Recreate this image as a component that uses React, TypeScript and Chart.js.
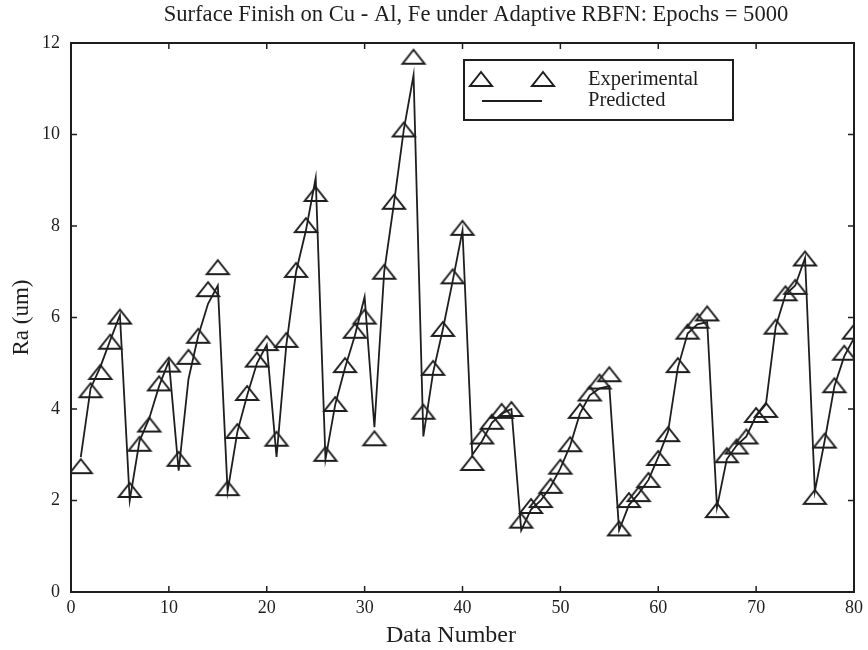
import React, { useEffect, useRef } from "react";
import { Chart, registerables } from "chart.js";

Chart.register(...registerables);

const TITLE = "Surface Finish on Cu - Al, Fe under Adaptive RBFN: Epochs = 5000";
const X_LABEL = "Data Number";
const Y_LABEL = "Ra (um)";
const LEGEND_LABELS = ["Experimental", "Predicted"];

const X_MIN = 0;
const X_MAX = 80;
const X_STEP = 10;
const Y_MIN = 0;
const Y_MAX = 12;
const Y_STEP = 2;

// Data numbers 1..80
const dataNumbers = [
  1, 2, 3, 4, 5, 6, 7, 8, 9, 10,
  11, 12, 13, 14, 15, 16, 17, 18, 19, 20,
  21, 22, 23, 24, 25, 26, 27, 28, 29, 30,
  31, 32, 33, 34, 35, 36, 37, 38, 39, 40,
  41, 42, 43, 44, 45, 46, 47, 48, 49, 50,
  51, 52, 53, 54, 55, 56, 57, 58, 59, 60,
  61, 62, 63, 64, 65, 66, 67, 68, 69, 70,
  71, 72, 73, 74, 75, 76, 77, 78, 79, 80,
];

const experimental = [
  2.75, 4.41, 4.81, 5.47, 6.02, 2.23, 3.24, 3.66, 4.56, 4.97,
  2.91, 5.14, 5.6, 6.62, 7.1, 2.27, 3.52, 4.35, 5.08, 5.44,
  3.35, 5.51, 7.04, 8.02, 8.7, 3.02, 4.11, 4.96, 5.71, 6.02,
  3.36, 7.0, 8.53, 10.11, 11.7, 3.94, 4.9, 5.75, 6.9, 7.96,
  2.82, 3.4, 3.72, 3.96, 4.0, 1.56, 1.88, 2.01, 2.32, 2.74,
  3.23, 3.96, 4.34, 4.6, 4.76, 1.39, 2.01, 2.14, 2.45, 2.93,
  3.45, 4.96, 5.69, 5.93, 6.09, 1.79, 2.99, 3.18, 3.4, 3.87,
  3.98, 5.8, 6.53, 6.67, 7.29, 2.08, 3.31, 4.52, 5.23, 5.69,
];

const predicted = [
  2.95, 4.45, 4.92, 5.5, 6.05, 2.0, 3.3, 3.8, 4.5, 5.05,
  2.65, 4.65, 5.6, 6.3, 6.7, 2.2, 3.5, 4.3, 5.0, 5.4,
  2.95, 5.4, 7.0, 7.9, 9.05, 2.9, 4.1, 4.9, 5.6, 6.45,
  3.6, 7.0, 8.5, 10.1, 11.3, 3.4, 4.8, 5.75, 6.8, 7.9,
  3.0, 3.3, 3.7, 3.9, 4.0, 1.35, 1.8, 2.0, 2.3, 2.7,
  3.2, 3.9, 4.3, 4.45, 4.5, 1.35, 1.9, 2.15, 2.45, 2.95,
  3.5, 4.9, 5.65, 5.85, 5.9, 1.85, 2.9, 3.2, 3.4, 3.85,
  4.1, 5.8, 6.5, 6.7, 7.3, 2.2, 3.3, 4.5, 5.15, 5.55,
];

const FONT = "'Liberation Serif', 'Times New Roman', serif";
const INK = "#1e1e1e";

function makeTriangle(): HTMLCanvasElement {
  const c = document.createElement("canvas");
  c.width = 28;
  c.height = 20;
  const ctx = c.getContext("2d")!;
  ctx.strokeStyle = INK;
  ctx.lineWidth = 2;
  ctx.lineJoin = "miter";
  ctx.beginPath();
  ctx.moveTo(14, 3);
  ctx.lineTo(3, 17);
  ctx.lineTo(25, 17);
  ctx.closePath();
  ctx.stroke();
  return c;
}

function makeFramePlugin(tri: HTMLCanvasElement) {
  return {
    id: "matlabFrame",
    afterDraw(chart: any) {
      const { ctx, chartArea } = chart;
      const { left, right, top, bottom } = chartArea;
      const xs = chart.scales.x;
      const ys = chart.scales.y;
      ctx.save();
      ctx.strokeStyle = INK;
      ctx.lineWidth = 2;
      ctx.strokeRect(left, top, right - left, bottom - top);
      ctx.lineWidth = 1.5;
      const tl = 6;
      ctx.beginPath();
      xs.ticks.forEach((t: any) => {
        const px = xs.getPixelForValue(t.value);
        ctx.moveTo(px, bottom);
        ctx.lineTo(px, bottom - tl);
        ctx.moveTo(px, top);
        ctx.lineTo(px, top + tl);
      });
      ys.ticks.forEach((t: any) => {
        const py = ys.getPixelForValue(t.value);
        ctx.moveTo(left, py);
        ctx.lineTo(left + tl, py);
        ctx.moveTo(right, py);
        ctx.lineTo(right - tl, py);
      });
      ctx.stroke();

      // Title and x-axis label
      ctx.fillStyle = INK;
      ctx.textBaseline = "middle";
      ctx.textAlign = "center";
      ctx.font = `22.6px ${FONT}`;
      ctx.fillText(TITLE, 476, 15);
      ctx.font = `24px ${FONT}`;
      ctx.fillText(X_LABEL, 451, 636);

      // Legend box (inside plot, upper right)
      const bx = 464, by = 60, bw = 269, bh = 60;
      ctx.fillStyle = "#ffffff";
      ctx.fillRect(bx, by, bw, bh);
      ctx.lineWidth = 2;
      ctx.strokeRect(bx, by, bw, bh);
      ctx.drawImage(tri, 481 - tri.width / 2, 79 - tri.height / 2);
      ctx.drawImage(tri, 543 - tri.width / 2, 79 - tri.height / 2);
      ctx.beginPath();
      ctx.lineWidth = 2;
      ctx.moveTo(482, 101);
      ctx.lineTo(542, 101);
      ctx.stroke();
      ctx.fillStyle = INK;
      ctx.font = `20.5px ${FONT}`;
      ctx.textAlign = "left";
      ctx.fillText(LEGEND_LABELS[0], 588, 80);
      ctx.fillText(LEGEND_LABELS[1], 588, 101);
      ctx.restore();
    },
  };
}

export default function App() {
  const canvasRef = useRef<HTMLCanvasElement | null>(null);

  useEffect(() => {
    if (!canvasRef.current) return;
    const tri = makeTriangle();
    const chart = new Chart(canvasRef.current, {
      type: "line",
      data: {
        datasets: [
          {
            label: LEGEND_LABELS[1],
            data: predicted.map((v, i) => ({ x: dataNumbers[i], y: v })),
            borderColor: INK,
            borderWidth: 1.8,
            pointRadius: 0,
            fill: false,
            tension: 0,
            order: 1,
          },
          {
            label: LEGEND_LABELS[0],
            data: experimental.map((v, i) => ({ x: dataNumbers[i], y: v })),
            showLine: false,
            pointStyle: tri as any,
            pointRadius: 10,
            borderColor: INK,
            backgroundColor: "transparent",
            order: 2,
          },
        ],
      },
      options: {
        animation: false,
        responsive: false,
        layout: { padding: { left: 0, right: 12, top: 43, bottom: 0 } },
        plugins: {
          legend: { display: false },
          tooltip: { enabled: false },
          title: { display: false },
        },
        scales: {
          x: {
            type: "linear",
            min: X_MIN,
            max: X_MAX,
            grid: { display: false, drawTicks: false },
            border: { display: false },
            ticks: {
              stepSize: X_STEP,
              color: INK,
              padding: 5,
              font: { family: FONT, size: 18 },
              maxRotation: 0,
            },
            title: { display: false },
            afterFit(scale: any) {
              scale.height = 58;
            },
          },
          y: {
            type: "linear",
            min: Y_MIN,
            max: Y_MAX,
            grid: { display: false, drawTicks: false },
            border: { display: false },
            ticks: {
              stepSize: Y_STEP,
              color: INK,
              padding: 11,
              font: { family: FONT, size: 18 },
            },
            title: {
              display: true,
              text: Y_LABEL,
              color: INK,
              font: { family: FONT, size: 23 },
              padding: { top: 8, bottom: 0 },
            },
            afterFit(scale: any) {
              scale.width = 71;
            },
          },
        },
      },
      plugins: [makeFramePlugin(tri)],
    } as any);
    return () => chart.destroy();
  }, []);

  return (
    <div style={{ position: "absolute", left: 0, top: 0, width: 868, height: 650, background: "#fff" }}>
      <canvas ref={canvasRef} width={868} height={650} style={{ display: "block", width: 868, height: 650 }} />
    </div>
  );
}
